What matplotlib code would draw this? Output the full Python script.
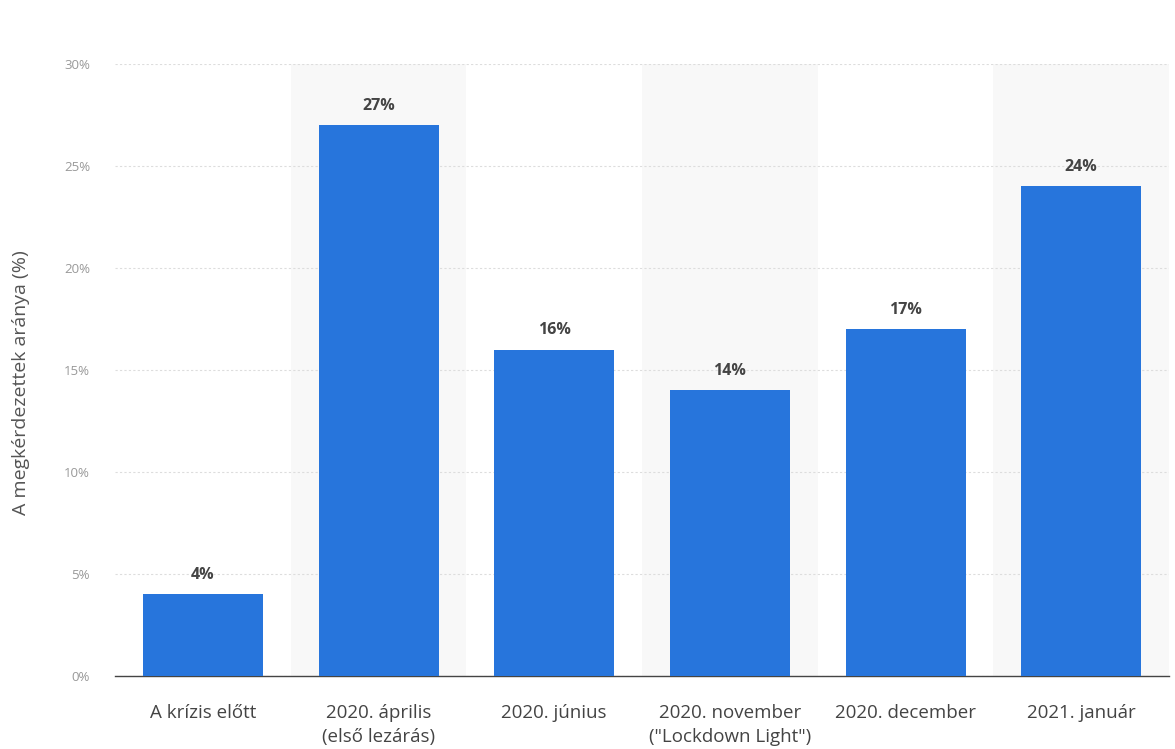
import matplotlib
matplotlib.use("Agg")
import matplotlib.pyplot as plt
import numpy as np

categories = ["A krízis előtt", "2020. április\n(első lezárás)", "2020. június",
              "2020. november\n(\"Lockdown Light\")", "2020. december", "2021. január"]
values = [4, 27, 16, 14, 17, 24]
yticks = [0, 5, 10, 15, 20, 25, 30]
ytick_labels = ["0%", "5%", "10%", "15%", "20%", "25%", "30%"]

plt.rcParams['font.family'] = ['Open Sans', 'DejaVu Sans']

fig = plt.figure(figsize=(11.75, 7.49), dpi=100)
ax = fig.add_axes([0.0979, 0.0975, 0.897, 0.8171])

x = np.arange(len(categories))
for i in x:
    if i % 2 == 1:
        ax.axvspan(i - 0.5, i + 0.5, color="#f8f8f8", zorder=0, lw=0)

ax.set_axisbelow(True)
ax.yaxis.grid(True, linestyle=(0, (2, 2)), color="#dddddd", linewidth=0.8)
bars = ax.bar(x, values, width=0.683, color="#2775dc", zorder=3)

for xi, v in zip(x, values):
    ax.text(xi, v + 0.55, f"{v}%", ha="center", va="bottom", fontsize=11.5,
            fontweight="bold", color="#444444", zorder=4)

ax.set_xlim(-0.5, len(categories) - 0.5)
ax.set_ylim(0, 30)
ax.set_yticks(yticks)
ax.set_yticklabels(ytick_labels, fontsize=9.5, color="#999999")
ax.set_xticks(x)
ax.set_xticklabels(categories, fontsize=13.5, color="#444444", linespacing=1.45)
ax.tick_params(axis="x", length=0, pad=20)
ax.tick_params(axis="y", length=0, pad=18)

for s in ["top", "right", "left"]:
    ax.spines[s].set_visible(False)
ax.spines["bottom"].set_color("#444444")
ax.spines["bottom"].set_linewidth(1.0)

ax.set_ylabel("A megkérdezettek aránya (%)", fontsize=14, color="#555555")
ax.yaxis.set_label_coords(-0.081, 0.48)

fig.savefig("out.png", dpi=100, facecolor="white")
